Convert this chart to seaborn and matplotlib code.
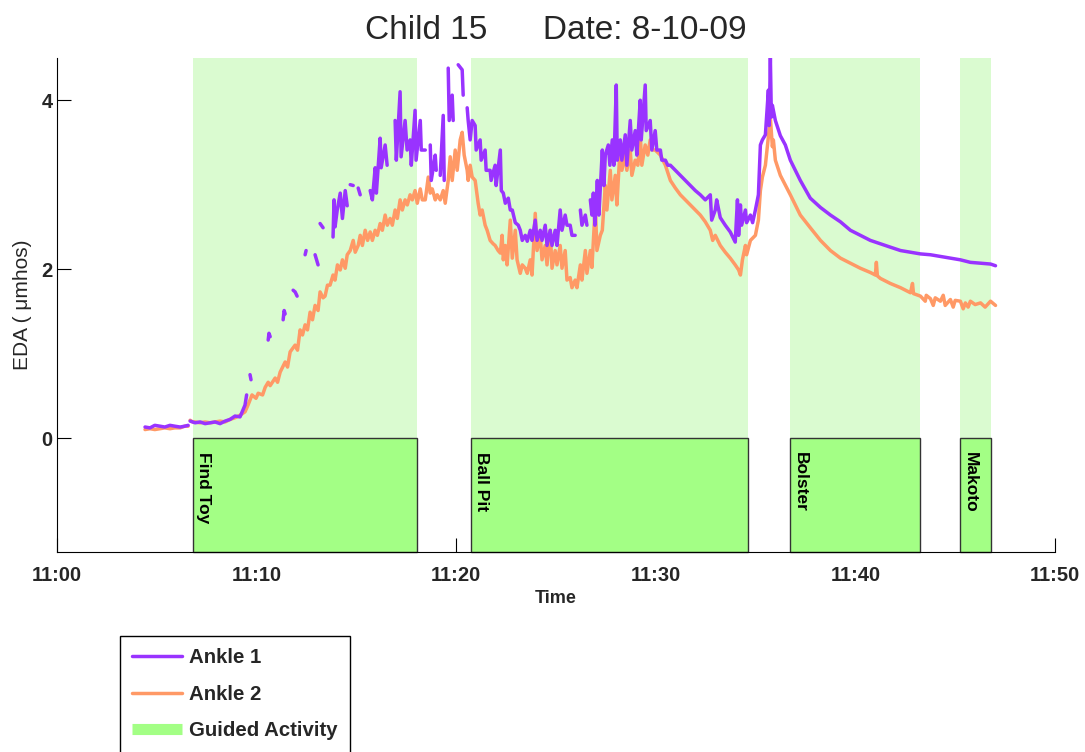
import numpy as np
import pandas as pd
import matplotlib
matplotlib.use("Agg")
import matplotlib.pyplot as plt
from matplotlib.lines import Line2D
import seaborn as sns

# ---------------- data (minutes after 11:00, EDA in micro-mhos) ----------------
nan = np.nan
ankle1_t = [4.41, 4.66, 4.90, 5.16, 5.40, 5.66, 5.90, 6.17, 6.40, 6.57, 6.62,
            6.67, 6.92, 7.17, 7.42, 7.67, 7.92, 8.17, 8.42, 8.67, 8.92, 9.17, 9.42, 9.50, 9.55,
            9.67, 9.72, 9.80, 9.97, 10.2, 10.58, 10.62, 10.68, 10.9, 11.33, 11.38, 11.43, 11.6,
            11.83, 11.93, 12.03, 12.2, 12.43, 12.48, 12.7, 12.93, 13.08, 13.12, 13.18, 13.33, 13.6,
            13.83, 13.88, 13.93, 14.04, 14.19, 14.30, 14.44, 14.54, 14.6, 14.69, 14.84, 14.9,
            15.09, 15.19, 15.4, 15.69, 15.80, 15.94, 16.00, 16.19, 16.24, 16.44, 16.54, 16.7,
            16.94, 17.00, 17.19, 17.24, 17.44, 17.54, 17.69, 17.75, 17.94, 17.99, 18.20, 18.25,
            18.45, 18.6, 18.70, 18.75, 18.95, 19.00, 19.1, 19.20, 19.35, 19.40, 19.5, 19.60, 19.65,
            19.80, 19.85, 20.0, 20.10, 20.30, 20.35, 20.45, 20.55, 20.60, 20.70, 20.80, 20.95,
            21.00, 21.20, 21.25, 21.45, 21.50, 21.70, 21.75, 21.95, 22.00, 22.21, 22.26, 22.36,
            22.46, 22.61, 22.71, 22.81, 22.96, 23.11, 23.21, 23.31, 23.46, 23.56, 23.71, 23.80,
            23.96, 24.05, 24.21, 24.30, 24.46, 24.55, 24.71, 24.80, 24.96, 25.05, 25.21, 25.30,
            25.46, 25.55, 25.71, 25.80, 25.96, 26.1, 26.22, 26.30, 26.47, 26.55, 26.62, 26.72,
            26.80, 26.87, 26.95, 27.07, 27.15, 27.32, 27.40, 27.47, 27.62, 27.70, 27.82, 27.90,
            28.02, 28.07, 28.22, 28.30, 28.47, 28.55, 28.72, 28.80, 28.97, 29.05, 29.22, 29.27,
            29.47, 29.52, 29.72, 29.80, 29.97, 30.05, 30.23, 30.30, 30.48, 30.60, 30.73, 30.98,
            31.23, 31.48, 31.73, 31.98, 32.23, 32.48, 32.73, 32.80, 32.98, 33.05, 33.23, 33.48,
            33.73, 33.98, 34.09, 34.15, 34.24, 34.30, 34.49, 34.55, 34.74, 34.85, 34.99, 35.14,
            35.24, 35.34, 35.49, 35.64, 35.68, 35.74, 35.79, 35.84, 35.99, 36.24, 36.49, 36.74,
            36.99, 37.24, 37.74, 38.25, 38.75, 39.25, 39.75, 40.25, 40.75, 41.25, 41.75, 42.26,
            42.76, 43.26, 43.76, 44.26, 44.76, 45.26, 45.76, 46.27, 46.77, 47.02]
ankle1_v = [0.13, 0.12, 0.15, 0.14, 0.13, 0.15, 0.14, 0.13, 0.14, 0.15, nan,
            0.20, 0.18, 0.19, 0.17, 0.18, 0.19, 0.17, 0.20, 0.22, 0.26, 0.25, 0.39, 0.51, nan,
            0.75, 0.69, nan, 0.80, nan, 1.16, 1.24, 1.20, nan, 1.40, 1.51, 1.47, nan,
            1.75, 1.73, 1.68, nan, 2.17, 2.22, nan, 2.17, 2.05, nan, 2.54, 2.49, nan,
            2.38, 2.82, 2.50, 2.70, 2.90, 2.60, 2.93, 2.75, nan, 3.00, 2.99, nan,
            2.96, 2.88, nan, 2.93, 2.82, 3.20, 2.90, 3.55, 3.20, 3.47, 3.23, nan,
            3.76, 3.29, 4.10, 3.33, 3.76, 3.41, 3.53, 3.23, 3.88, 3.29, 3.76, 3.41,
            3.41, nan, 3.47, 3.05, 3.35, 3.17, nan, 3.11, 3.82, 3.05, nan, 4.38, 3.76,
            4.06, 3.76, nan, 4.42, 4.36, 4.06, nan, 3.91, 3.76, 3.53, 3.76, 3.70,
            3.41, 3.53, 3.29, 3.41, 3.17, 3.17, 3.05, 3.23, 2.99, 3.41, 2.93, 2.90,
            2.78, 2.84, 2.70, 2.70, 2.55, 2.52, 2.46, 2.34, 2.40, 2.33, 2.46, 2.34,
            2.58, 2.34, 2.46, 2.34, 2.52, 2.28, 2.46, 2.28, 2.46, 2.28, 2.70, 2.46,
            2.64, 2.52, 2.52, 2.40, 2.40, nan, 2.70, 2.52, 2.64, 2.52, nan, 2.82,
            2.64, 2.90, 2.52, 3.05, 2.64, 3.41, 2.99, 3.35, 3.47, 3.23, 3.53, 3.23,
            4.18, 3.29, 3.53, 3.29, 3.59, 3.23, 3.76, 3.41, 3.64, 3.35, 4.00, 3.53,
            4.18, 3.64, 3.76, 3.41, 3.64, 3.41, 3.41, 3.29, 3.29, 3.23, 3.23, 3.17,
            3.11, 3.05, 2.99, 2.93, 2.88, 2.82, 2.88, 2.58, 2.70, 2.82, 2.61, 2.52,
            2.44, 2.32, 2.82, 2.40, 2.76, 2.52, 2.70, 2.55, 2.64, 2.55, 2.70, 2.88,
            3.47, 3.53, 3.59, 4.12, 3.70, 4.50, 3.80, 3.94, 3.76, 3.58, 3.47, 3.29,
            3.17, 3.05, 2.84, 2.73, 2.64, 2.56, 2.46, 2.40, 2.34, 2.30, 2.26, 2.22,
            2.20, 2.18, 2.17, 2.15, 2.13, 2.11, 2.08, 2.07, 2.06, 2.04]

ankle2_t = [4.41, 4.66, 4.90, 5.16, 5.40, 5.66, 5.90, 6.17, 6.40, 6.57, 6.62,
            6.67, 6.80, 6.92, 7.17, 7.42, 7.67, 7.92, 8.17, 8.42, 8.67, 8.92, 9.17, 9.42, 9.57,
            9.67, 9.77, 9.97, 10.08, 10.30, 10.43, 10.58, 10.68, 10.93, 11.05, 11.18, 11.43, 11.55,
            11.68, 11.93, 12.05, 12.18, 12.30, 12.43, 12.55, 12.68, 12.80, 12.93, 13.08, 13.18,
            13.33, 13.43, 13.55, 13.68, 13.83, 13.93, 14.05, 14.19, 14.30, 14.44, 14.54, 14.69,
            14.84, 14.94, 15.09, 15.19, 15.30, 15.44, 15.56, 15.69, 15.80, 15.94, 16.05, 16.19,
            16.30, 16.44, 16.55, 16.69, 16.80, 16.94, 17.05, 17.19, 17.30, 17.44, 17.55, 17.69,
            17.80, 17.94, 18.05, 18.20, 18.30, 18.45, 18.60, 18.70, 18.80, 18.95, 19.05, 19.20,
            19.35, 19.45, 19.60, 19.70, 19.80, 19.95, 20.05, 20.20, 20.30, 20.40, 20.55, 20.60,
            20.70, 20.80, 20.95, 21.10, 21.20, 21.30, 21.45, 21.55, 21.70, 21.85, 21.95, 22.10,
            22.21, 22.30, 22.36, 22.46, 22.55, 22.71, 22.81, 22.96, 23.05, 23.21, 23.31, 23.46,
            23.56, 23.71, 23.80, 23.96, 24.05, 24.21, 24.30, 24.46, 24.55, 24.71, 24.80, 24.96,
            25.05, 25.21, 25.30, 25.46, 25.55, 25.71, 25.80, 25.96, 26.05, 26.22, 26.30, 26.47,
            26.55, 26.72, 26.80, 26.97, 27.05, 27.22, 27.32, 27.47, 27.55, 27.72, 27.80, 27.97,
            28.05, 28.22, 28.30, 28.47, 28.55, 28.72, 28.80, 28.97, 29.10, 29.22, 29.30, 29.47,
            29.60, 29.72, 29.85, 29.97, 30.23, 30.48, 30.73, 30.98, 31.23, 31.48, 31.73, 31.98,
            32.23, 32.48, 32.73, 32.85, 32.98, 33.23, 33.48, 33.73, 33.98, 34.15, 34.24, 34.34,
            34.49, 34.55, 34.74, 34.99, 35.14, 35.24, 35.34, 35.49, 35.64, 35.74, 35.84, 35.89,
            35.99, 36.24, 36.74, 37.24, 37.74, 38.25, 38.75, 39.25, 39.75, 40.25, 40.75, 41.00,
            41.05, 41.10, 41.25, 41.75, 42.26, 42.76, 42.86, 42.91, 43.26, 43.50, 43.55, 43.76,
            43.90, 44.00, 44.26, 44.40, 44.50, 44.76, 44.90, 45.00, 45.26, 45.40, 45.51, 45.65,
            45.76, 46.00, 46.27, 46.50, 46.77, 47.02]
ankle2_v = [0.10, 0.11, 0.10, 0.11, 0.12, 0.11, 0.12, 0.12, 0.14, 0.14, nan,
            0.21, 0.19, 0.19, 0.18, 0.19, 0.18, 0.19, 0.20, 0.19, 0.22, 0.24, 0.27, 0.31, 0.39,
            0.45, 0.51, 0.47, 0.53, 0.51, 0.60, 0.66, 0.62, 0.71, 0.66, 0.78, 0.90, 0.84,
            1.02, 1.10, 1.04, 1.28, 1.22, 1.34, 1.28, 1.49, 1.40, 1.57, 1.51, 1.73,
            1.66, 1.68, 1.81, 1.81, 1.93, 1.87, 2.05, 1.99, 2.11, 2.01, 2.17, 2.22,
            2.34, 2.20, 2.28, 2.40, 2.28, 2.46, 2.34, 2.44, 2.34, 2.46, 2.40, 2.54,
            2.46, 2.64, 2.52, 2.60, 2.52, 2.70, 2.60, 2.82, 2.70, 2.82, 2.76, 2.88,
            2.82, 2.93, 2.78, 2.95, 2.82, 2.82, 3.09, 2.90, 2.95, 2.82, 2.88, 2.82,
            2.93, 2.78, 3.05, 3.33, 3.05, 3.41, 3.17, 3.53, 3.62, 3.35, 3.17, 3.05,
            3.23, 3.09, 3.05, 2.78, 2.64, 2.70, 2.52, 2.46, 2.34, 2.30, 2.28, 2.22,
            2.19, 2.40, 2.11, 2.28, 2.05, 2.58, 2.13, 2.46, 2.11, 1.95, 2.05, 2.01,
            1.95, 2.11, 1.93, 2.66, 2.22, 2.40, 2.11, 2.28, 2.05, 2.46, 2.01, 2.22,
            2.05, 2.28, 2.01, 2.22, 1.87, 1.90, 1.78, 1.87, 1.78, 2.05, 1.87, 2.22,
            1.95, 2.22, 2.02, 2.76, 2.22, 2.40, 2.46, 2.99, 2.70, 3.17, 2.82, 3.11,
            2.76, 3.47, 3.17, 3.35, 3.17, 3.41, 3.11, 3.29, 3.23, 3.59, 3.23, 3.47,
            3.35, 3.53, 3.41, 3.41, 3.35, 3.23, 3.05, 2.96, 2.88, 2.82, 2.76, 2.70,
            2.64, 2.56, 2.46, 2.34, 2.40, 2.28, 2.20, 2.13, 2.05, 1.99, 1.93, 2.11,
            2.28, 2.17, 2.34, 2.40, 2.58, 2.93, 3.09, 3.23, 3.56, 3.79, 3.45, 3.53,
            3.29, 3.11, 2.88, 2.64, 2.49, 2.34, 2.22, 2.13, 2.07, 2.01, 1.96, 1.93,
            2.08, 1.92, 1.89, 1.83, 1.78, 1.72, 1.83, 1.71, 1.68, 1.62, 1.69, 1.65,
            1.57, 1.66, 1.62, 1.69, 1.57, 1.64, 1.55, 1.63, 1.62, 1.53, 1.60, 1.55,
            1.62, 1.58, 1.60, 1.55, 1.62, 1.57]

activity_names = ["Find Toy", "Ball Pit", "Bolster", "Makoto"]
activity_start = [6.82, 20.75, 36.74, 45.26]
activity_end = [18.05, 34.64, 43.26, 46.77]

tick_minutes = [0, 10, 20, 30, 40, 50]
tick_labels = ["11:00", "11:10", "11:20", "11:30", "11:40", "11:50"]

# ---------------- styling ----------------
sns.set_theme(style="white")
plt.rcParams["font.family"] = ["Liberation Sans", "DejaVu Sans"]

PURPLE = "#9933FF"
ORANGE = "#FF9966"
LIGHT_GREEN = "#DAFBD0"
BOX_GREEN = "#A3FF85"

YMIN, YMAX = -1.35, 4.5

fig = plt.figure(figsize=(10.85, 7.52), dpi=100)
ax = fig.add_axes([57 / 1085, 1 - 552 / 752, (1055 - 57) / 1085, (552 - 58) / 752])


def to_frame(t, v, name):
    df = pd.DataFrame({"t": t, "v": v})
    df["seg"] = df["v"].isna().cumsum()
    df = df.dropna()
    df["series"] = name
    return df


d1 = to_frame(ankle1_t, ankle1_v, "Ankle 1")
d2 = to_frame(ankle2_t, ankle2_v, "Ankle 2")

# activity shading
for name, s, e in zip(activity_names, activity_start, activity_end):
    ax.axvspan(s, e, ymin=(0 - YMIN) / (YMAX - YMIN), ymax=1, color=LIGHT_GREEN, lw=0, zorder=0)
    ax.add_patch(plt.Rectangle((s, YMIN), e - s, 0 - YMIN, facecolor=BOX_GREEN,
                               edgecolor="#333333", lw=1.0, zorder=1, clip_on=False))
    ax.text(s + 0.12, -0.16, name, rotation=270, ha="left", va="top",
            fontsize=12.5, fontweight="bold", color="black", zorder=3)

sns.lineplot(data=d2, x="t", y="v", units="seg", estimator=None, sort=False,
             color=ORANGE, lw=2.5, ax=ax, zorder=2, legend=False)
sns.lineplot(data=d1, x="t", y="v", units="seg", estimator=None, sort=False,
             color=PURPLE, lw=2.5, ax=ax, zorder=2.5, legend=False)

ax.set_xlim(0, 50)
ax.set_ylim(YMIN, YMAX)
ax.set_xticks(tick_minutes)
ax.set_xticklabels(tick_labels)
ax.set_yticks([0, 2, 4])
ax.tick_params(axis="both", which="major", direction="in", length=10, width=0.8,
               color="black", labelsize=14.5, bottom=True, left=True)
for lab in ax.get_xticklabels() + ax.get_yticklabels():
    lab.set_fontweight("bold")
ax.tick_params(axis="x", pad=10)
ax.tick_params(axis="y", pad=3)

for side in ["top", "right"]:
    ax.spines[side].set_visible(False)
for side in ["left", "bottom"]:
    ax.spines[side].set_color("black")
    ax.spines[side].set_linewidth(0.8)

ax.set_xlabel("Time", fontsize=13, fontweight="bold", labelpad=4)
ax.set_ylabel("EDA ( \u03bcmhos)", fontsize=15, labelpad=7)
ax.set_title("Child 15      Date: 8-10-09", fontsize=24, pad=14)

handles = [Line2D([], [], color=PURPLE, lw=2.5),
           Line2D([], [], color=ORANGE, lw=2.5),
           Line2D([], [], color=BOX_GREEN, lw=8, solid_capstyle="butt")]
leg = fig.legend(handles, ["Ankle 1", "Ankle 2", "Guided Activity"],
                 loc="upper left", bbox_to_anchor=(120 / 1085, 1 - 636 / 752),
                 borderaxespad=0.0,
                 frameon=True, fancybox=False, framealpha=1, edgecolor="black",
                 prop={"size": 14.7, "weight": "bold"}, handlelength=2.45,
                 handletextpad=0.34, labelspacing=0.86, borderpad=0.6)
leg.get_frame().set_linewidth(1.0)

fig.savefig("out.png", dpi=100)
